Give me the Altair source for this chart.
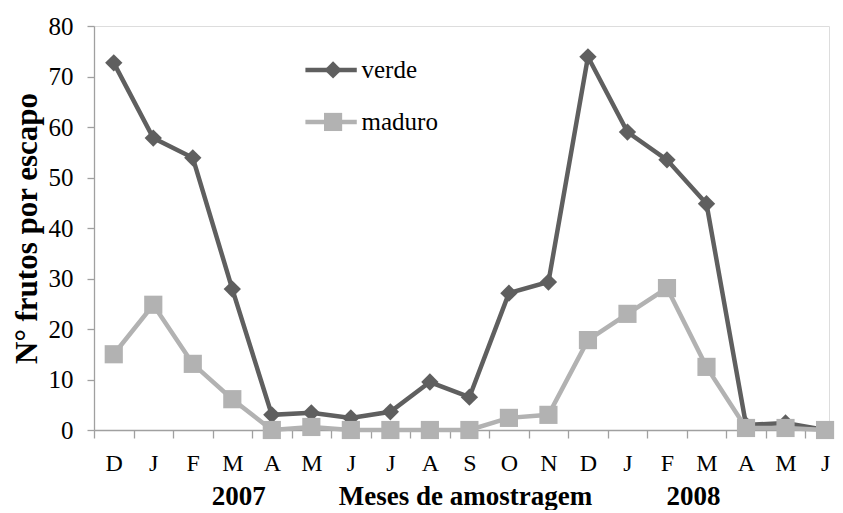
import altair as alt
import pandas as pd

# ---------------- data ----------------
months = ["D", "J", "F", "M", "A", "M", "J", "J", "A", "S",
          "O", "N", "D", "J", "F", "M", "A", "M", "J"]
verde = [72.7, 57.8, 53.9, 27.9, 3.0, 3.4, 2.4, 3.6, 9.5, 6.5,
         27.1, 29.3, 73.9, 59.0, 53.5, 44.8, 1.0, 1.4, 0.0]
maduro = [15.0, 24.8, 13.1, 6.1, 0.0, 0.6, 0.0, 0.0, 0.0, 0.0,
          2.4, 3.0, 17.8, 23.0, 28.1, 12.5, 0.4, 0.4, 0.0]
series_names = ["verde", "maduro"]
y_ticks = [0, 10, 20, 30, 40, 50, 60, 70, 80]
bottom_texts = ["2007", "Meses de amostragem", "2008"]

# ---------------- styling / layout ----------------
series_colors = ["#5f5f5f", "#b2b2b2"]
series_shapes = ["diamond", "square"]
series_sizes = [300, 330]
FONT = "Liberation Serif"
AXIS_COLOR = "#a0a0a0"
PLOT_W = 735
PLOT_H = 404
X_MIN, X_MAX = -0.5, 18.1
HALF = PLOT_W / (X_MAX - X_MIN) / 2.0

# annotation anchors (data coordinates)
bottom_pos = [3.16, 8.9, 14.67]
legend_y = [71.3, 61.0]
LEG_X0, LEG_X1, LEG_XM, LEG_XT = 4.85, 6.15, 5.55, 6.27

n = len(months)
df = pd.DataFrame({
    "idx": list(range(n)) * 2,
    "series": ["verde"] * n + ["maduro"] * n,
    "value": verde + maduro,
})
legend_df = pd.DataFrame({
    "series": series_names,
    "ly": legend_y,
    "x0": [LEG_X0] * 2,
    "x1": [LEG_X1] * 2,
    "xm": [LEG_XM] * 2,
    "xt": [LEG_XT] * 2,
})
bottom_df = pd.DataFrame({"text": bottom_texts, "bx": bottom_pos})

label_expr = "[" + ",".join("'%s'" % m for m in months) + "][datum.value]"

x_scale = alt.Scale(domain=[X_MIN, X_MAX], nice=False, zero=False)
y_scale = alt.Scale(domain=[0, 80], nice=False, zero=True)

x_axis = alt.Axis(
    values=list(range(n)), labelExpr=label_expr, title=None, grid=False,
    tickOffset=-HALF, labelOffset=HALF, tickSize=8, tickColor=AXIS_COLOR,
    tickWidth=1.3, domainColor=AXIS_COLOR, domainWidth=1.3,
    labelFont=FONT, labelFontSize=24, labelColor="#000000", labelPadding=13,
    labelFlush=False, labelOverlap=False,
)
y_axis = alt.Axis(
    values=y_ticks, title="N° frutos por escapo", grid=False,
    tickSize=7, tickColor=AXIS_COLOR, tickWidth=1.3,
    domainColor=AXIS_COLOR, domainWidth=1.3,
    labelFont=FONT, labelFontSize=25, labelColor="#000000", labelPadding=14,
    titleFont=FONT, titleFontSize=31, titleFontWeight="bold",
    titleColor="#000000", titlePadding=5,
)

color_scale = alt.Scale(domain=series_names, range=series_colors)
shape_scale = alt.Scale(domain=series_names, range=series_shapes)
size_scale = alt.Scale(domain=series_names, range=series_sizes)

base = alt.Chart(df)
layers = []
for name in series_names:
    sub = base.transform_filter(alt.datum.series == name)
    layers.append(
        sub.mark_line(strokeWidth=4.5).encode(
            x=alt.X("idx:Q", scale=x_scale, axis=x_axis),
            y=alt.Y("value:Q", scale=y_scale, axis=y_axis),
            color=alt.Color("series:N", scale=color_scale, legend=None),
            order="idx:Q",
        )
    )
    layers.append(
        sub.mark_point(filled=True, opacity=1).encode(
            x=alt.X("idx:Q", scale=x_scale, axis=x_axis),
            y=alt.Y("value:Q", scale=y_scale, axis=y_axis),
            color=alt.Color("series:N", scale=color_scale, legend=None),
            shape=alt.Shape("series:N", scale=shape_scale, legend=None),
            size=alt.Size("series:N", scale=size_scale, legend=None),
        )
    )

leg = alt.Chart(legend_df)
leg_line = leg.mark_rule(strokeWidth=4.5).encode(
    x=alt.X("x0:Q", scale=x_scale, axis=x_axis),
    x2="x1:Q",
    y=alt.Y("ly:Q", scale=y_scale, axis=y_axis),
    color=alt.Color("series:N", scale=color_scale, legend=None),
)
leg_pt = leg.mark_point(filled=True, opacity=1).encode(
    x=alt.X("xm:Q", scale=x_scale, axis=x_axis),
    y=alt.Y("ly:Q", scale=y_scale, axis=y_axis),
    color=alt.Color("series:N", scale=color_scale, legend=None),
    shape=alt.Shape("series:N", scale=shape_scale, legend=None),
    size=alt.Size("series:N", scale=size_scale, legend=None),
)
leg_txt = leg.mark_text(align="left", baseline="middle", font=FONT,
                        fontSize=25, color="#000000").encode(
    x=alt.X("xt:Q", scale=x_scale, axis=x_axis),
    y=alt.Y("ly:Q", scale=y_scale, axis=y_axis),
    text="series:N",
)

bottom = alt.Chart(bottom_df).mark_text(
    align="center", baseline="middle", font=FONT, fontSize=27,
    fontWeight="bold", color="#000000"
).encode(
    x=alt.X("bx:Q", scale=x_scale, axis=x_axis),
    y=alt.value(PLOT_H + 67),
    text="text:N",
)

chart = alt.layer(*layers, leg_line, leg_pt, leg_txt, bottom).properties(
    width=PLOT_W, height=PLOT_H,
    padding={"left": 3, "top": 6, "right": 0, "bottom": 0},
).configure_view(stroke=None).configure(background="white")

chart.save("out.html", embed_options={"renderer": "svg", "actions": False})
